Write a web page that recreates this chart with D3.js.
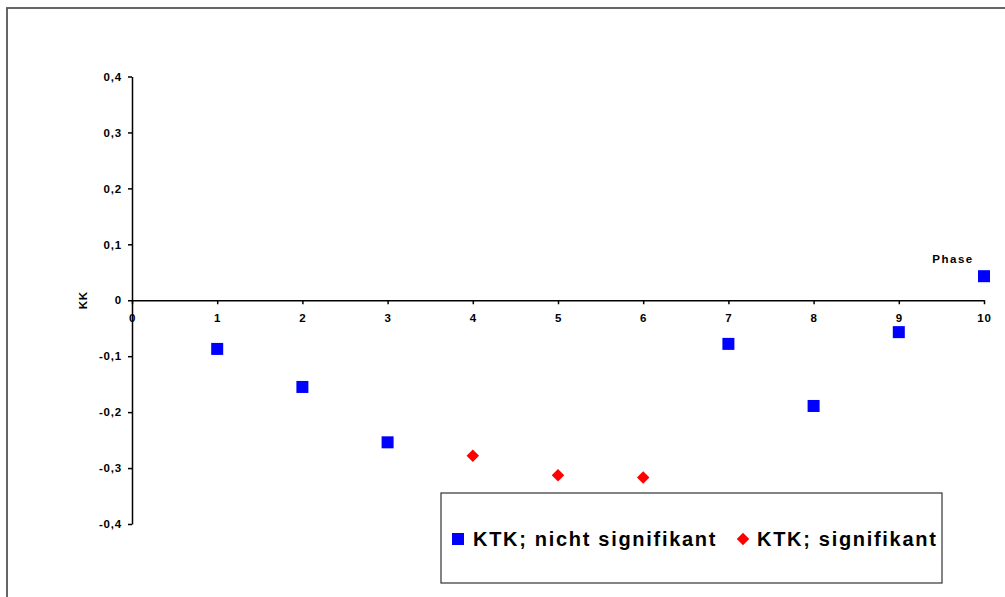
<!DOCTYPE html>
<html>
<head>
<meta charset="utf-8">
<script src="https://cdn.jsdelivr.net/npm/d3@7"></script>
<style>
    body { margin: 0; background: #fff; }
    svg { display: block; font-family: 'Liberation Sans', Arial, sans-serif; }
    .axis text { font-size: 11.5px; font-weight: bold; fill: #000; letter-spacing: 0.8px; }
    .axis path, .axis line { stroke: #000; stroke-width: 1.5; }
</style>
</head>
<body>
<svg></svg>
<script>
// phases (x) and KK values (y)
const phaseNS = [1, 2, 3, 7, 8, 9, 10];
const kkNS = [-0.087, -0.155, -0.254, -0.078, -0.189, -0.057, 0.043];
const phaseSig = [4, 5, 6];
const kkSig = [-0.278, -0.313, -0.317];
const xTicks = [0, 1, 2, 3, 4, 5, 6, 7, 8, 9, 10];
const yTicks = [-0.4, -0.3, -0.2, -0.1, 0, 0.1, 0.2, 0.3, 0.4];
const legendLabels = ['KTK; nicht signifikant', 'KTK; signifikant'];

let width = 1005;
let height = 597;

let svg = d3.select('svg')
            .attr('width', width)
            .attr('height', height);

// outer chart frame (runs off the right/bottom edge)
svg.append('rect')
    .attr('x', 7)
    .attr('y', 8)
    .attr('width', 1010)
    .attr('height', 610)
    .attr('fill', 'none')
    .attr('stroke', '#555')
    .attr('stroke-width', 1.8);

let xScale = d3.scaleLinear().domain([0, 10]).range([132, 984]);
let yScale = d3.scaleLinear().domain([-0.4, 0.4]).range([524, 76.5]);

const fmt = v => v === 0 ? '0' : d3.format('.1f')(v).replace('.', ',').replace('−', '-');

let yAxis = d3.axisLeft(yScale)
            .tickValues(yTicks)
            .tickSize(4)
            .tickPadding(6)
            .tickSizeOuter(0)
            .tickFormat(fmt);

svg.append('g')
    .attr('class', 'axis axis-y')
    .attr('transform', `translate(${xScale(0)}, 0)`)
    .call(yAxis);

let xAxis = d3.axisBottom(xScale)
            .tickValues(xTicks)
            .tickSize(4)
            .tickPadding(10)
            .tickSizeOuter(0)
            .tickFormat(d3.format('d'));

svg.append('g')
    .attr('class', 'axis axis-x')
    .attr('transform', `translate(0, ${yScale(0)})`)
    .call(xAxis);

// axis titles
svg.append('text')
    .attr('transform', `translate(87, ${yScale(0)}) rotate(-90)`)
    .attr('text-anchor', 'middle')
    .style('font-size', '11.5px')
    .style('font-weight', 'bold')
    .style('letter-spacing', '0.8px')
    .text('KK');

svg.append('text')
    .attr('x', 953)
    .attr('y', 263)
    .attr('text-anchor', 'middle')
    .style('font-size', '11.5px')
    .style('font-weight', 'bold')
    .style('letter-spacing', '1.5px')
    .text('Phase');

// markers
let sq = 12;
svg.append('g').selectAll('rect')
    .data(phaseNS.map((p, i) => [p, kkNS[i]]))
    .join('rect')
    .attr('x', d => xScale(d[0]) - sq / 2)
    .attr('y', d => yScale(d[1]) - sq / 2)
    .attr('width', sq)
    .attr('height', sq)
    .attr('fill', '#0000ff');

let diamond = d3.symbol().type(d3.symbolDiamond2).size(100);
svg.append('g').selectAll('path')
    .data(phaseSig.map((p, i) => [p, kkSig[i]]))
    .join('path')
    .attr('transform', d => `translate(${xScale(d[0])}, ${yScale(d[1])})`)
    .attr('d', diamond)
    .attr('fill', '#ff0000');

// legend
let legend = svg.append('g');
legend.append('rect')
    .attr('x', 441)
    .attr('y', 493)
    .attr('width', 501)
    .attr('height', 90)
    .attr('fill', '#fff')
    .attr('stroke', '#333')
    .attr('stroke-width', 1.2);

legend.append('rect')
    .attr('x', 452)
    .attr('y', 533)
    .attr('width', sq)
    .attr('height', sq)
    .attr('fill', '#0000ff');

legend.append('path')
    .attr('transform', 'translate(743, 539)')
    .attr('d', diamond)
    .attr('fill', '#ff0000');

legend.selectAll('text')
    .data(legendLabels)
    .join('text')
    .attr('x', (d, i) => i === 0 ? 473 : 757)
    .attr('y', 546)
    .style('font-size', '20px')
    .style('font-weight', 'bold')
    .style('letter-spacing', '1.7px')
    .text(d => d);
</script>
</body>
</html>
